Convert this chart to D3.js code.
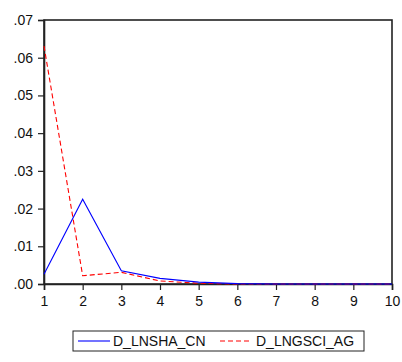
<!DOCTYPE html>
<html>
<head>
<meta charset="utf-8">
<script src="https://cdn.jsdelivr.net/npm/d3@7"></script>
<style>
  html, body { margin: 0; padding: 0; background: #fff; }
  svg { display: block; font-family: "Liberation Sans", Arial, sans-serif; }
</style>
</head>
<body>
<svg id="chart" width="402" height="362"></svg>
<script>
// Periods 1..10
const periods = [1, 2, 3, 4, 5, 6, 7, 8, 9, 10];
// Series values
const dLnshaCn = [0.0026, 0.0225, 0.0035, 0.0015, 0.0005, 0.0001, 0.0, 0.0, 0.0, 0.0];
const dLngsciAg = [0.0631, 0.0022, 0.0031, 0.0008, 0.0002, 0.0, 0.0, 0.0, 0.0, 0.0];
const yTicks = [0, 0.01, 0.02, 0.03, 0.04, 0.05, 0.06, 0.07];
const yTickLabels = [".00", ".01", ".02", ".03", ".04", ".05", ".06", ".07"];
const seriesNames = ["D_LNSHA_CN", "D_LNGSCI_AG"];

const svg = d3.select("#chart");
const m = { left: 44, top: 20, right: 392, bottom: 284 };
const font = "Liberation Sans, Arial, sans-serif";

const x = d3.scaleLinear().domain([1, 10]).range([m.left, m.right]);
const y = d3.scaleLinear().domain([0, 0.07]).range([m.bottom, m.top]);

// Plot frame
svg.append("rect")
  .attr("x", m.left).attr("y", m.top)
  .attr("width", m.right - m.left).attr("height", m.bottom - m.top)
  .attr("fill", "none").attr("stroke", "#222").attr("stroke-width", 1.6);

// Y axis
const yAxis = d3.axisLeft(y).tickValues(yTicks)
  .tickFormat((d, i) => yTickLabels[i]).tickSize(6).tickPadding(5);
const gy = svg.append("g").attr("transform", `translate(${m.left},0)`).call(yAxis);
gy.select(".domain").attr("stroke", "#222").attr("stroke-width", 1.6);
gy.selectAll(".tick line").attr("stroke", "#222").attr("stroke-width", 1.2);
gy.selectAll("text").attr("font-size", 14).attr("fill", "#111").attr("font-family", font);

// X axis
const xAxis = d3.axisBottom(x).tickValues(periods).tickFormat(d3.format("d"))
  .tickSize(6).tickPadding(6);
const gx = svg.append("g").attr("transform", `translate(0,${m.bottom})`).call(xAxis);
gx.select(".domain").attr("stroke", "#222").attr("stroke-width", 1.6);
gx.selectAll(".tick line").attr("stroke", "#222").attr("stroke-width", 1.2);
gx.selectAll("text").attr("font-size", 14).attr("fill", "#111").attr("font-family", font);

// Lines
const line = d3.line().x((d, i) => x(periods[i])).y(d => y(d));
svg.append("path").datum(dLngsciAg)
  .attr("d", line).attr("fill", "none")
  .attr("stroke", "#ff0000").attr("stroke-width", 1.1)
  .attr("stroke-dasharray", "5,3");
svg.append("path").datum(dLnshaCn)
  .attr("d", line).attr("fill", "none")
  .attr("stroke", "#0000ff").attr("stroke-width", 1.1);

// Legend
const lg = svg.append("g");
lg.append("rect").attr("x", 73).attr("y", 331).attr("width", 291).attr("height", 20)
  .attr("fill", "#fff").attr("stroke", "#222").attr("stroke-width", 1);
lg.append("line").attr("x1", 78).attr("x2", 110).attr("y1", 341).attr("y2", 341)
  .attr("stroke", "#0000ff").attr("stroke-width", 1.1);
lg.append("text").attr("x", 113).attr("y", 346).attr("font-size", 14)
  .attr("font-family", font).attr("fill", "#111").text(seriesNames[0]);
lg.append("line").attr("x1", 220).attr("x2", 250).attr("y1", 341).attr("y2", 341)
  .attr("stroke", "#ff0000").attr("stroke-width", 1.1).attr("stroke-dasharray", "5,3");
lg.append("text").attr("x", 256).attr("y", 346).attr("font-size", 14)
  .attr("font-family", font).attr("fill", "#111").text(seriesNames[1]);
</script>
</body>
</html>
